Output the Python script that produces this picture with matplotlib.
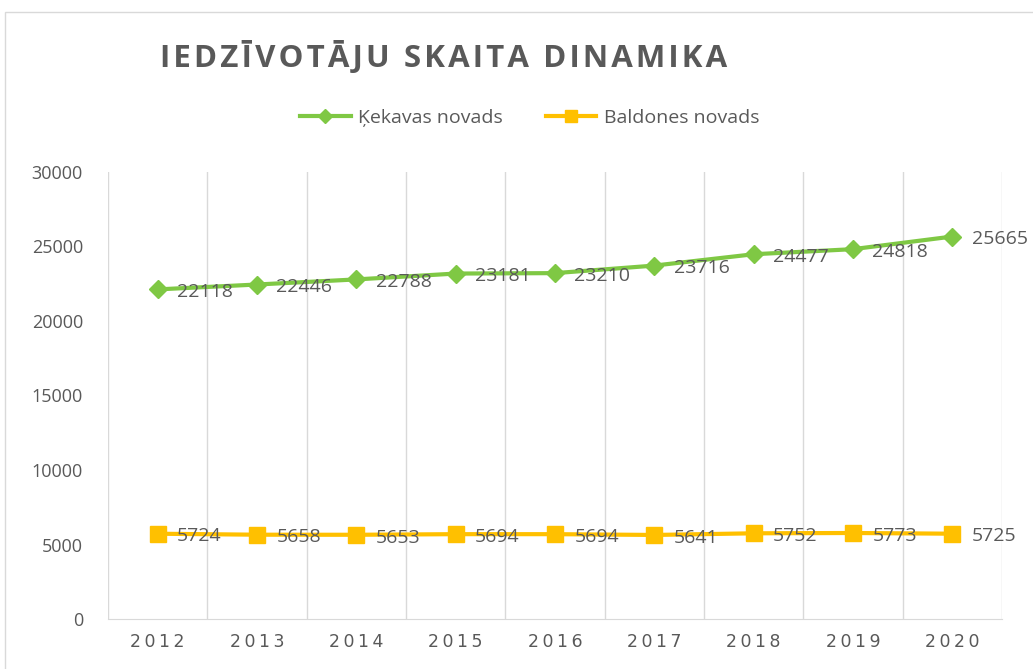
import numpy as np
import matplotlib.pyplot as plt
from matplotlib.patches import Rectangle
from matplotlib.lines import Line2D

years = ['2012', '2013', '2014', '2015', '2016', '2017', '2018', '2019', '2020']
kekava = [22118, 22446, 22788, 23181, 23210, 23716, 24477, 24818, 25665]
baldone = [5724, 5658, 5653, 5694, 5694, 5641, 5752, 5773, 5725]

green = '#7FC844'
yellow = '#FFC000'
gray = '#595959'

plt.rcParams['font.family'] = ['Open Sans', 'DejaVu Sans']

fig = plt.figure(figsize=(10.33, 6.69), dpi=100)
ax = fig.add_axes([0.1045, 0.0747, 0.8655, 0.6683])

x = np.arange(len(years))
ax.plot(x, kekava, color=green, lw=3, marker='D', ms=9, zorder=3)
ax.plot(x, baldone, color=yellow, lw=3, marker='s', ms=11, zorder=3)

for xi, v in zip(x, kekava):
    ax.annotate(str(v), (xi, v), xytext=(14, -2), textcoords='offset points',
                ha='left', va='center', fontsize=14, color=gray, zorder=4)
for xi, v in zip(x, baldone):
    ax.annotate(str(v), (xi, v), xytext=(14, -2), textcoords='offset points',
                ha='left', va='center', fontsize=14, color=gray, zorder=4)

ax.set_xlim(-0.5, len(years) - 0.5)
ax.set_ylim(0, 30000)
ax.set_yticks(np.arange(0, 30001, 5000))
ax.set_yticklabels([str(v) for v in range(0, 30001, 5000)], fontsize=13, color=gray)
ax.set_xticks(x)
ax.set_xticklabels(['\u2009'.join(y) for y in years], fontsize=12.5, color=gray,
                   family=['DejaVu Sans'])
ax.tick_params(axis='y', length=0, pad=18)
ax.tick_params(axis='x', length=0, pad=10)

for b in np.arange(-0.5, len(years), 1):
    ax.axvline(b, color='#D9D9D9', lw=1, zorder=1)
for s in ['top', 'right', 'left']:
    ax.spines[s].set_visible(False)
ax.spines['bottom'].set_color('#D9D9D9')

# title with letter spacing
title = 'IEDZĪVOTĀJU SKAITA DINAMIKA'
fig.text(0.155, 0.914, '\u200a'.join(title), fontsize=22.5, fontweight='bold',
         color=gray, ha='left', va='center', family=['Open Sans', 'DejaVu Sans'])

handles = [Line2D([], [], color=green, lw=3, marker='D', ms=7),
           Line2D([], [], color=yellow, lw=3, marker='s', ms=9)]
fig.legend(handles, ['Ķekavas novads', 'Baldones novads'], loc='center',
           bbox_to_anchor=(0.513, 0.824), ncol=2, frameon=False, fontsize=14,
           labelcolor=gray, handlelength=2.6, columnspacing=2.2, handletextpad=0.4)

fig.patches.append(Rectangle((0.005, -0.1), 1.2, 1.082, transform=fig.transFigure,
                             fill=False, edgecolor='#D9D9D9', lw=1))

fig.savefig('out.png', dpi=100)
